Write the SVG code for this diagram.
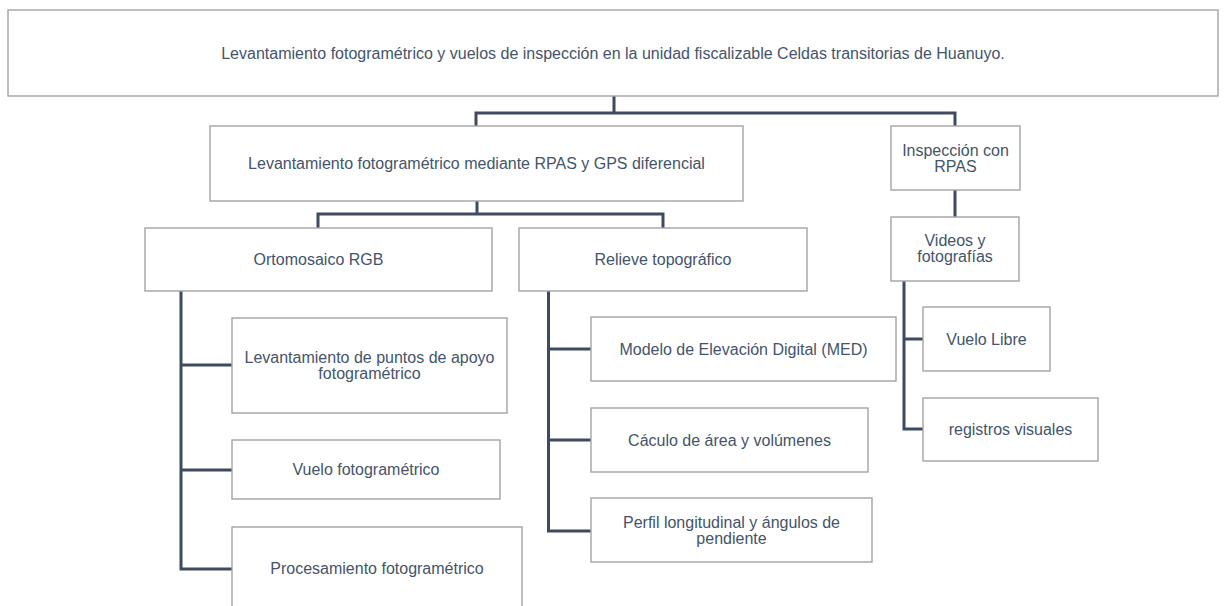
<svg xmlns="http://www.w3.org/2000/svg" width="1226" height="606" viewBox="0 0 1226 606">
<style>
.box{fill:#ffffff;stroke:#a3a3a3;stroke-width:1.4}
.t{font-family:"Liberation Sans",Arial,sans-serif;font-size:16px;fill:#44546a;text-anchor:middle}
.c{fill:none;stroke:#3e4b5e;stroke-width:3;stroke-linejoin:miter}
</style>
<rect width="1226" height="606" fill="#ffffff"/>
<g id="connectors">
<path class="c" d="M614 96V113M476 126V113H955V126"/>
<path class="c" d="M955 190V217"/>
<path class="c" d="M477 201V214M318 228V214H663V228"/>
<path class="c" d="M181 291V569H232M181 365H232M181 470H232"/>
<path class="c" d="M548.5 291V531H591M548.5 349H591M548.5 440H591"/>
<path class="c" d="M904 281V429H923M904 339H923"/>
</g>
<g id="n-root"><rect class="box" x="8" y="10" width="1210" height="86"/><text class="t" x="613" y="59">Levantamiento fotogramétrico y vuelos de inspección en la unidad fiscalizable Celdas transitorias de Huanuyo.</text></g>
<g id="n-lev"><rect class="box" x="210" y="126" width="533" height="75"/><text class="t" x="476.5" y="169">Levantamiento fotogramétrico mediante RPAS y GPS diferencial</text></g>
<g id="n-insp"><rect class="box" x="891" y="126" width="129" height="64"/><text class="t" x="955.5" y="155.5">Inspección con</text><text class="t" x="955.5" y="172">RPAS</text></g>
<g id="n-videos"><rect class="box" x="891" y="217" width="128" height="64"/><text class="t" x="955" y="246">Videos y</text><text class="t" x="955" y="262">fotografías</text></g>
<g id="n-orto"><rect class="box" x="145" y="228" width="347" height="63"/><text class="t" x="318.5" y="265">Ortomosaico RGB</text></g>
<g id="n-relieve"><rect class="box" x="519" y="228" width="288" height="63"/><text class="t" x="663" y="265">Relieve topográfico</text></g>
<g id="n-puntos"><rect class="box" x="232" y="318" width="275" height="95"/><text class="t" x="369.5" y="363">Levantamiento de puntos de apoyo</text><text class="t" x="369.5" y="379">fotogramétrico</text></g>
<g id="n-vuelo"><rect class="box" x="232" y="440" width="268" height="59"/><text class="t" x="366" y="475">Vuelo fotogramétrico</text></g>
<g id="n-proc"><rect class="box" x="232" y="527" width="290" height="83"/><text class="t" x="377" y="574">Procesamiento fotogramétrico</text></g>
<g id="n-med"><rect class="box" x="591" y="317" width="305" height="64"/><text class="t" x="743.5" y="354.5">Modelo de Elevación Digital (MED)</text></g>
<g id="n-calc"><rect class="box" x="591" y="408" width="277" height="64"/><text class="t" x="729.5" y="445.5">Cáculo de área y volúmenes</text></g>
<g id="n-perfil"><rect class="box" x="591" y="498" width="281" height="64"/><text class="t" x="731.5" y="527.5">Perfil longitudinal y ángulos de</text><text class="t" x="731.5" y="544">pendiente</text></g>
<g id="n-libre"><rect class="box" x="923" y="307" width="127" height="64"/><text class="t" x="986.5" y="344.5">Vuelo Libre</text></g>
<g id="n-reg"><rect class="box" x="923" y="398" width="175" height="63"/><text class="t" x="1010.5" y="435">registros visuales</text></g>
</svg>
